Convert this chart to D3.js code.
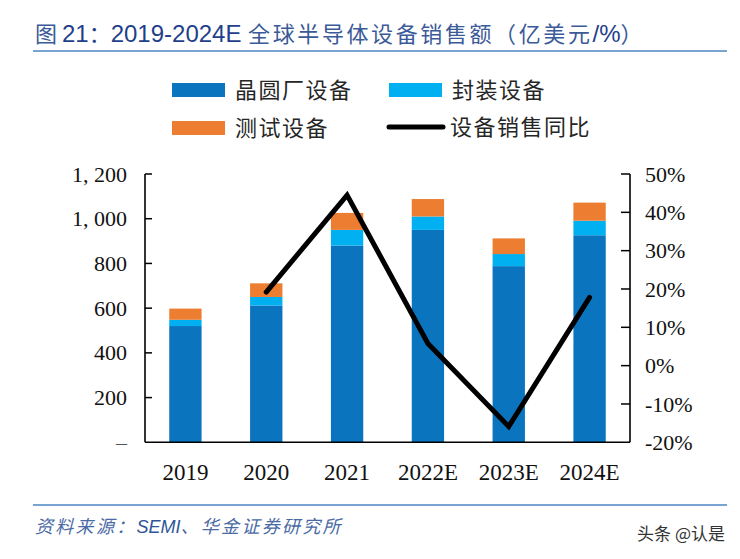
<!DOCTYPE html>
<html>
<head>
<meta charset="utf-8">
<script src="https://cdn.jsdelivr.net/npm/d3@7"></script>
<style>
  html, body { margin: 0; padding: 0; background: #fff; }
  svg { display: block; }
</style>
</head>
<body>
<div id="chart"></div>
<script>
// ---- data ----
const categories = ["2019", "2020", "2021", "2022E", "2023E", "2024E"];
const waferFab   = [520, 612, 880, 950, 788, 926];
const packaging  = [28, 38, 70, 60, 54, 65];
const testing    = [50, 61, 76, 78, 70, 81];
const yoyGrowth  = [null, 19.2, 44.5, 5.8, -15.9, 17.8];
const leftTicks  = [0, 200, 400, 600, 800, 1000, 1200];
const leftTickLabels = ["–", "200", "400", "600", "800", "1, 000", "1, 200"];
const rightTicks = [-20, -10, 0, 10, 20, 30, 40, 50];
const rightTickLabels = ["-20%", "-10%", "0%", "10%", "20%", "30%", "40%", "50%"];
const seriesNames = ["晶圆厂设备", "封装设备", "测试设备", "设备销售同比"];
const colors = ["#0B74BF", "#00B0F0", "#ED7D31", "#000000"];

const W = 740, H = 559;
const svg = d3.select("#chart").append("svg").attr("width", W).attr("height", H);

const plot = { left: 145, right: 630, top: 174, bottom: 442.3 };

const x = d3.scaleBand().domain(categories).range([plot.left, plot.right])
  .paddingInner(0.6).paddingOuter(0.3);
const yL = d3.scaleLinear().domain([0, 1200]).range([plot.bottom, plot.top]);
const yR = d3.scaleLinear().domain([-20, 50]).range([plot.bottom, plot.top]);

// ---- title ----
const serifFont = "'Liberation Serif', 'Times New Roman', serif";
const cjkFont = "'Noto Sans CJK SC', sans-serif";
const latinFont = "'Liberation Sans', Arial, sans-serif";
const title = svg.append("text").attr("x", 35).attr("y", 42)
  .style("font-size", "22px").attr("fill", "#1F3F8A");
title.append("tspan").style("font-family", cjkFont).attr("fill", "#3B5A98").text("图 ");
title.append("tspan").style("font-family", latinFont).style("font-size", "24px").text("21");
title.append("tspan").style("font-family", cjkFont).text("：");
title.append("tspan").style("font-family", latinFont).style("font-size", "24px").text("2019-2024E ");
title.append("tspan").style("font-family", cjkFont).attr("fill", "#3B5A98").style("letter-spacing", "2.6px").text("全球半导体设备销售额（亿美元");
title.append("tspan").style("font-family", latinFont).style("font-size", "24px").text("/%");
title.append("tspan").style("font-family", cjkFont).attr("fill", "#3B5A98").text("）");

svg.append("line").attr("x1", 33).attr("x2", 727).attr("y1", 51).attr("y2", 51)
  .attr("stroke", "#4A86C0").attr("stroke-width", 1.6);

// ---- legend ----
const legend = svg.append("g").style("font-family", cjkFont).style("font-size", "22px");
const legendItems = [
  { x: 172, y: 90, type: "rect" },
  { x: 389, y: 90, type: "rect" },
  { x: 172, y: 128, type: "rect" },
  { x: 387, y: 127, type: "line" }
];
legendItems.forEach((it, i) => {
  if (it.type === "rect") {
    legend.append("rect").attr("x", it.x).attr("y", it.y - 7).attr("width", 53).attr("height", 14)
      .attr("fill", colors[i]);
  } else {
    legend.append("line").attr("x1", it.x + 2).attr("x2", it.x + 56).attr("y1", it.y).attr("y2", it.y)
      .attr("stroke", colors[i]).attr("stroke-width", 5).attr("stroke-linecap", "round");
  }
  legend.append("text").attr("x", it.x + 63).attr("y", it.y).attr("dy", "0.36em")
    .attr("fill", "#262626").style("letter-spacing", "1.5px").text(seriesNames[i]);
});

// ---- bars ----
const stackData = categories.map((c, i) => ({ cat: c, w: waferFab[i], p: packaging[i], t: testing[i] }));
const stack = d3.stack().keys(["w", "p", "t"])(stackData);
svg.append("g").selectAll("g").data(stack).join("g")
  .attr("fill", (d, i) => colors[i])
  .selectAll("rect").data(d => d).join("rect")
  .attr("x", d => x(d.data.cat))
  .attr("width", x.bandwidth())
  .attr("y", d => yL(d[1]))
  .attr("height", d => yL(d[0]) - yL(d[1]));

// ---- axes ----
const axisColor = "#000";
const leftAxis = d3.axisLeft(yL).tickValues(leftTicks).tickSize(0).tickPadding(18)
  .tickFormat((d, i) => leftTickLabels[i]);
const gL = svg.append("g").attr("transform", `translate(${plot.left},0)`).call(leftAxis);
gL.select(".domain").remove();
gL.selectAll("text").style("font-family", serifFont).style("font-size", "22px").attr("fill", "#111")
  .style("white-space", "pre");
gL.selectAll("text").filter((d, i) => i === 0).attr("fill", "#555");
svg.append("g").selectAll("line").data(leftTicks.slice(1)).join("line")
  .attr("x1", plot.left).attr("x2", plot.left + 7)
  .attr("y1", d => yL(d)).attr("y2", d => yL(d))
  .attr("stroke", axisColor).attr("stroke-width", 1.5);
svg.append("line").attr("x1", plot.left).attr("x2", plot.left)
  .attr("y1", plot.top).attr("y2", plot.bottom).attr("stroke", axisColor).attr("stroke-width", 1.6);

const rightAxis = d3.axisRight(yR).tickValues(rightTicks).tickSize(0).tickPadding(15)
  .tickFormat((d, i) => rightTickLabels[i]);
const gR = svg.append("g").attr("transform", `translate(${plot.right},0)`).call(rightAxis);
gR.select(".domain").remove();
gR.selectAll("text").style("font-family", serifFont).style("font-size", "22px").attr("fill", "#111");
svg.append("g").selectAll("line").data(rightTicks.slice(1)).join("line")
  .attr("x1", plot.right - 9).attr("x2", plot.right)
  .attr("y1", d => yR(d)).attr("y2", d => yR(d))
  .attr("stroke", axisColor).attr("stroke-width", 1.5);
svg.append("line").attr("x1", plot.right).attr("x2", plot.right)
  .attr("y1", plot.top).attr("y2", plot.bottom).attr("stroke", axisColor).attr("stroke-width", 1.6);

const bottomAxis = d3.axisBottom(x).tickSize(0).tickPadding(21);
const gB = svg.append("g").attr("transform", `translate(0,${plot.bottom})`).call(bottomAxis);
gB.select(".domain").remove();
gB.selectAll("text").style("font-family", serifFont).style("font-size", "23px").attr("fill", "#111");
svg.append("line").attr("x1", plot.left).attr("x2", plot.right)
  .attr("y1", plot.bottom).attr("y2", plot.bottom).attr("stroke", axisColor).attr("stroke-width", 1.6);

// ---- line ----
const lineData = categories.map((c, i) => ({ cat: c, v: yoyGrowth[i] })).filter(d => d.v !== null);
svg.append("path").datum(lineData)
  .attr("fill", "none").attr("stroke", colors[3]).attr("stroke-width", 5)
  .attr("stroke-linejoin", "miter").attr("stroke-linecap", "round")
  .attr("d", d3.line().x(d => x(d.cat) + x.bandwidth() / 2).y(d => yR(d.v)));

// ---- footer ----
svg.append("line").attr("x1", 33).attr("x2", 727).attr("y1", 505).attr("y2", 505)
  .attr("stroke", "#4A86C0").attr("stroke-width", 1.6);
const foot = svg.append("text").attr("x", 35).attr("y", 533)
  .style("font-size", "18px").style("font-style", "italic").attr("fill", "#2E5597");
foot.append("tspan").style("font-family", cjkFont).attr("fill", "#4A6AA5").style("letter-spacing", "2.3px").text("资料来源：");
foot.append("tspan").style("font-family", latinFont).text("SEMI");
foot.append("tspan").style("font-family", cjkFont).attr("fill", "#4A6AA5").style("letter-spacing", "2.3px").text("、华金证券研究所");

svg.append("text").attr("x", 725).attr("y", 540).attr("text-anchor", "end")
  .style("font-family", cjkFont).style("font-size", "17px").attr("fill", "#333")
  .text("头条 @认是");
</script>
</body>
</html>
